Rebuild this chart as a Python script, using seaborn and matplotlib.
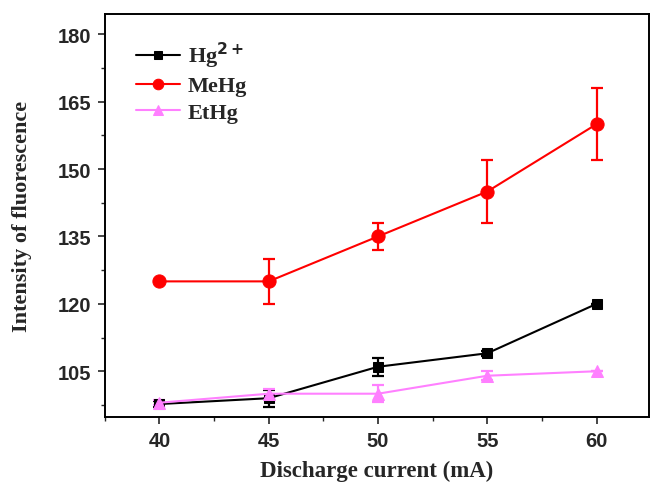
import numpy as np
import pandas as pd
import matplotlib
matplotlib.use("Agg")
import matplotlib.pyplot as plt
import seaborn as sns
from matplotlib.ticker import MultipleLocator

current = [40, 45, 50, 55, 60]
hg = [97.7, 99, 106, 109, 120]
hg_err = [0.6, 1.9, 2.0, 0.6, 0.0]
mehg = [125, 125, 135, 145, 160]
mehg_err = [0.0, 5.0, 3.0, 7.0, 8.0]
ethg = [98, 100, 100, 104, 105]
ethg_err = [0.5, 1.0, 1.9, 1.0, 0.0]

series_names = ["Hg$^{\\mathbf{2+}}$", "MeHg", "EtHg"]
colors = ["black", "#ff0000", "#ff80ff"]
markers = ["s", "o", "^"]

sns.set_style("ticks")
fig = plt.figure(figsize=(6.51, 4.85), dpi=100)
ax = fig.add_axes([0.161, 0.138, 0.836, 0.831])

vals = [hg, mehg, ethg]
errs = [hg_err, mehg_err, ethg_err]
msizes = [7, 9.5, 8.5]
for name, v, e, c, m, ms in zip(series_names, vals, errs, colors, markers, msizes):
    df = pd.DataFrame({"x": current, "y": v})
    ax.errorbar(current, v, yerr=e, fmt="none", ecolor=c, elinewidth=1.6,
                capsize=4, capthick=1.6, zorder=2)
    sns.lineplot(data=df, x="x", y="y", ax=ax, color=c, marker=m,
                 markersize=ms, markeredgecolor=c, linewidth=1.5,
                 label=name, zorder=3)

ax.set_xlim(37.5, 62.4)
ax.set_ylim(94.8, 184.5)
ax.xaxis.set_major_locator(MultipleLocator(5))
ax.xaxis.set_minor_locator(MultipleLocator(2.5))
ax.set_yticks([105, 120, 135, 150, 165, 180])
ax.yaxis.set_minor_locator(MultipleLocator(7.5))
ax.tick_params(which="major", direction="out", length=5, width=1.2,
               labelsize=14.5, pad=5)
ax.tick_params(which="minor", direction="out", length=3, width=1.0)
for lab in ax.get_xticklabels() + ax.get_yticklabels():
    lab.set_fontfamily("Liberation Sans")
    lab.set_fontweight("bold")

for s in ax.spines.values():
    s.set_visible(True)
    s.set_linewidth(1.4)
    s.set_color("black")

ax.set_xlabel("Discharge current (mA)", fontfamily="Liberation Serif",
              fontweight="bold", fontsize=16.5, labelpad=7)
ax.set_ylabel("Intensity of fluorescence", fontfamily="Liberation Serif",
              fontweight="bold", fontsize=16, labelpad=18)

leg = ax.legend(loc="upper left", bbox_to_anchor=(0.02, 0.985), frameon=False,
                prop={"family": "Liberation Serif", "weight": "bold", "size": 16},
                handlelength=2.0, labelspacing=0.25, handletextpad=0.35,
                markerscale=0.8)

fig.savefig("out.png", dpi=100)
